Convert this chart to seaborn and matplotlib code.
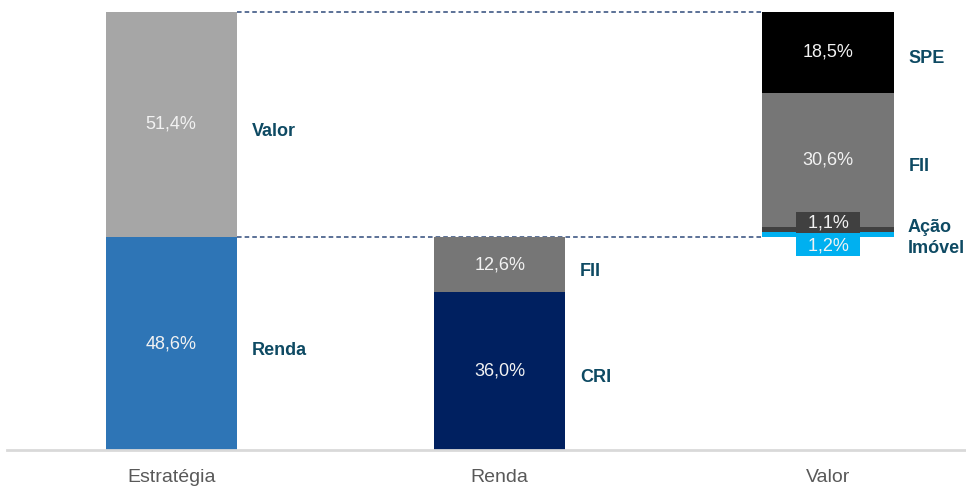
import matplotlib
matplotlib.use("Agg")
import matplotlib.pyplot as plt
import seaborn as sns
import pandas as pd
import numpy as np

# ---- data ----
categories = ["Estratégia", "Renda", "Valor"]
estrategia_segments = ["Renda", "Valor"]
estrategia_values = [48.6, 51.4]
renda_segments = ["CRI", "FII"]
renda_values = [36.0, 12.6]
valor_segments = ["Imóvel", "Ação", "FII", "SPE"]
valor_values = [1.2, 1.1, 30.6, 18.5]

estrategia_colors = ["#2E75B6", "#A6A6A6"]
renda_colors = ["#002060", "#767676"]
valor_colors = ["#00B0F0", "#404040", "#767676", "#000000"]

sns.set_theme(style="white")
FONT = ["Liberation Sans", "DejaVu Sans"]
plt.rcParams["font.family"] = FONT

fig = plt.figure(figsize=(9.66, 4.90), dpi=100)
ax = fig.add_axes([7 / 966, 1 - 450 / 490, 1 - 7 / 966, 450 / 490])

rows = []
base = 0.0
for n, v, c in zip(estrategia_segments, estrategia_values, estrategia_colors):
    rows.append(("Estratégia", n, base, base + v, v, c)); base += v
base = 0.0
for n, v, c in zip(renda_segments, renda_values, renda_colors):
    rows.append(("Renda", n, base, base + v, v, c)); base += v
valor_base = sum(renda_values)
base = valor_base
for n, v, c in zip(valor_segments, valor_values, valor_colors):
    rows.append(("Valor", n, base, base + v, v, c)); base += v
df = pd.DataFrame(rows, columns=["cat", "seg", "bottom", "top", "val", "color"])

W = 0.4
for _, r in df.sort_values("top", ascending=False).iterrows():
    sns.barplot(x=[r["cat"]], y=[r["top"]], order=categories, color=r["color"],
                width=W, saturation=1, ax=ax, linewidth=0, zorder=2)
sns.barplot(x=["Valor"], y=[valor_base], order=categories, color="white",
            width=W, saturation=1, ax=ax, linewidth=0, zorder=2)

x0 = categories.index("Estratégia") + W / 2
x2 = categories.index("Valor") - W / 2
for yv in [sum(estrategia_values), valor_base]:
    ax.plot([x0, x2], [yv, yv], ls=(0, (3, 2)), color="#2F4A7A", lw=1.1, zorder=1)

lab_col = "#0E4A63"
VAL_FS = 13
NAME_FS = 13
for _, r in df.iterrows():
    xi = categories.index(r["cat"])
    mid = (r["bottom"] + r["top"]) / 2
    txt = f"{r['val']:.1f}%".replace(".", ",")
    if r["val"] < 3:
        if r["seg"] == "Ação":
            vy, ny = r["top"] + 1.0, r["top"] - 0.1
        else:
            vy, ny = r["bottom"] - 2.0, r["bottom"] - 2.5
        ax.text(xi, vy, "  " + txt + "  ", ha="center", va="center", color="#F2F2F2",
                fontsize=VAL_FS, zorder=5,
                bbox=dict(boxstyle="square,pad=0.1", fc=r["color"], ec="none"))
        ax.text(xi + W / 2 + 0.042, ny, r["seg"], ha="left", va="center",
                color=lab_col, fontsize=NAME_FS, fontweight="bold")
    else:
        ax.text(xi, mid, txt, ha="center", va="center", color="#F2F2F2",
                fontsize=VAL_FS, zorder=5)
        ax.text(xi + W / 2 + 0.045, mid - 1.5, r["seg"], ha="left", va="center",
                color=lab_col, fontsize=NAME_FS, fontweight="bold")

ax.set_xlim(-0.5, 2.42)
ax.set_ylim(0, 102.7)
ax.set_xlabel("")
ax.set_ylabel("")
ax.set_yticks([])
ax.tick_params(axis="x", length=0, pad=14, labelsize=14, labelcolor="#595959")
for s in ["top", "right", "left"]:
    ax.spines[s].set_visible(False)
ax.spines["bottom"].set_color("#D9D9D9")
ax.spines["bottom"].set_linewidth(2)
ax.spines["bottom"].set_zorder(6)

fig.savefig("out.png", dpi=100)
